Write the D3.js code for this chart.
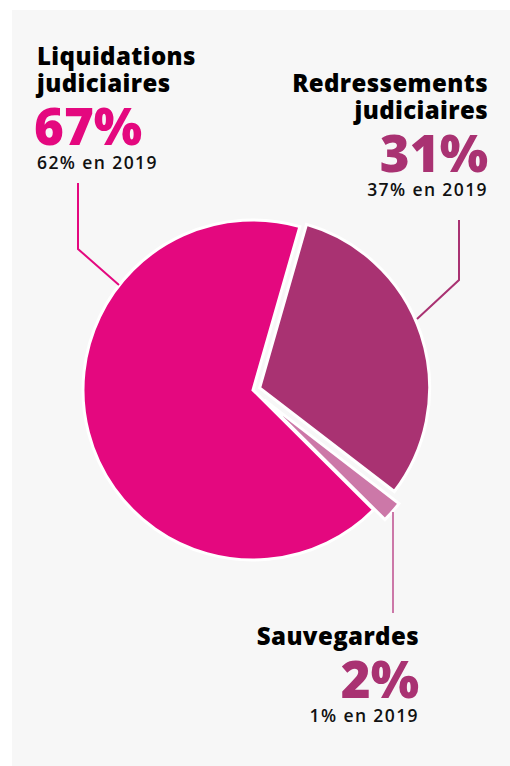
<!DOCTYPE html>
<html>
<head>
<meta charset="utf-8">
<style>
  body { margin: 0; background: #fff; }
  text { font-family: "Open Sans", "Noto Sans", sans-serif; }
</style>
</head>
<body>
<script src="https://cdn.jsdelivr.net/npm/d3@7"></script>
<script>
// données (ordre horaire depuis le haut)
var categories = ['Redressements judiciaires', 'Sauvegardes', 'Liquidations judiciaires'];
var values2020 = [31, 2, 67];
var labels2019 = ['37% en 2019', '1% en 2019', '62% en 2019'];
var colors = ['#a93272', '#cc78a8', '#e4087f'];

var width = 510, height = 766;
var cx = 253, cy = 390, radius = 170;
var explode = [7, 15, 0];

var svg = d3.select('body').append('svg')
  .attr('width', width).attr('height', height);

svg.append('rect')
  .attr('x', 12).attr('y', 10)
  .attr('width', width - 12).attr('height', height - 10)
  .attr('fill', '#f7f7f7');

var pie = d3.pie().sort(null)
  .startAngle(16 * Math.PI / 180)
  .endAngle(376 * Math.PI / 180);
var arc = d3.arc().innerRadius(0).outerRadius(radius);
var arcs = pie(values2020);

var g = svg.append('g').attr('transform', 'translate(' + cx + ',' + cy + ')');

g.selectAll('path')
  .data(arcs)
  .enter()
  .append('path')
  .attr('d', arc)
  .attr('fill', function(d, i) { return colors[i]; })
  .attr('stroke', '#ffffff')
  .attr('stroke-width', 3)
  .attr('transform', function(d, i) {
    var a = (d.startAngle + d.endAngle) / 2;
    return 'translate(' + (Math.sin(a) * explode[i]) + ',' + (-Math.cos(a) * explode[i]) + ')';
  });

// lignes de rappel
var leaders = [
  [[459, 220], [459, 280], [417, 319]],
  [[393, 512], [393, 613]],
  [[78, 183], [78, 249], [119, 285]]
];
svg.selectAll('.leader')
  .data(leaders)
  .enter()
  .append('path')
  .attr('class', 'leader')
  .attr('d', d3.line())
  .attr('fill', 'none')
  .attr('stroke', function(d, i) { return colors[i]; })
  .attr('stroke-width', 2);

// étiquettes
var labelPos = [
  { x: 488, y: 92, anchor: 'end', lines: ['Redressements', 'judiciaires'] },
  { x: 419, y: 645, anchor: 'end', lines: ['Sauvegardes'] },
  { x: 37, y: 65, anchor: 'start', lines: ['Liquidations', 'judiciaires'] }
];
var pctColors = ['#a93272', '#a93272', '#e4087f'];

labelPos.forEach(function(p, i) {
  var grp = svg.append('g');
  var y = p.y;
  p.lines.forEach(function(l, k) {
    grp.append('text')
      .attr('x', p.x).attr('y', y)
      .attr('text-anchor', p.anchor)
      .attr('font-size', 24).attr('font-weight', 800)
      .attr('letter-spacing', 0.4)
      .attr('fill', '#000')
      .text(l);
    y += 27;
  });
  y += 26;
  grp.append('text')
    .attr('x', p.anchor === 'end' ? p.x : p.x - 3).attr('y', y)
    .attr('text-anchor', p.anchor)
    .attr('font-size', 51).attr('font-weight', 800)
    .attr('fill', pctColors[i])
    .text(values2020[i] + '%');
  grp.append('text')
    .attr('x', p.x).attr('y', y + 24)
    .attr('text-anchor', p.anchor)
    .attr('font-size', 17.5).attr('font-weight', 600)
    .attr('letter-spacing', 1.4)
    .attr('fill', '#111')
    .text(labels2019[i]);
});
</script>
</body>
</html>
